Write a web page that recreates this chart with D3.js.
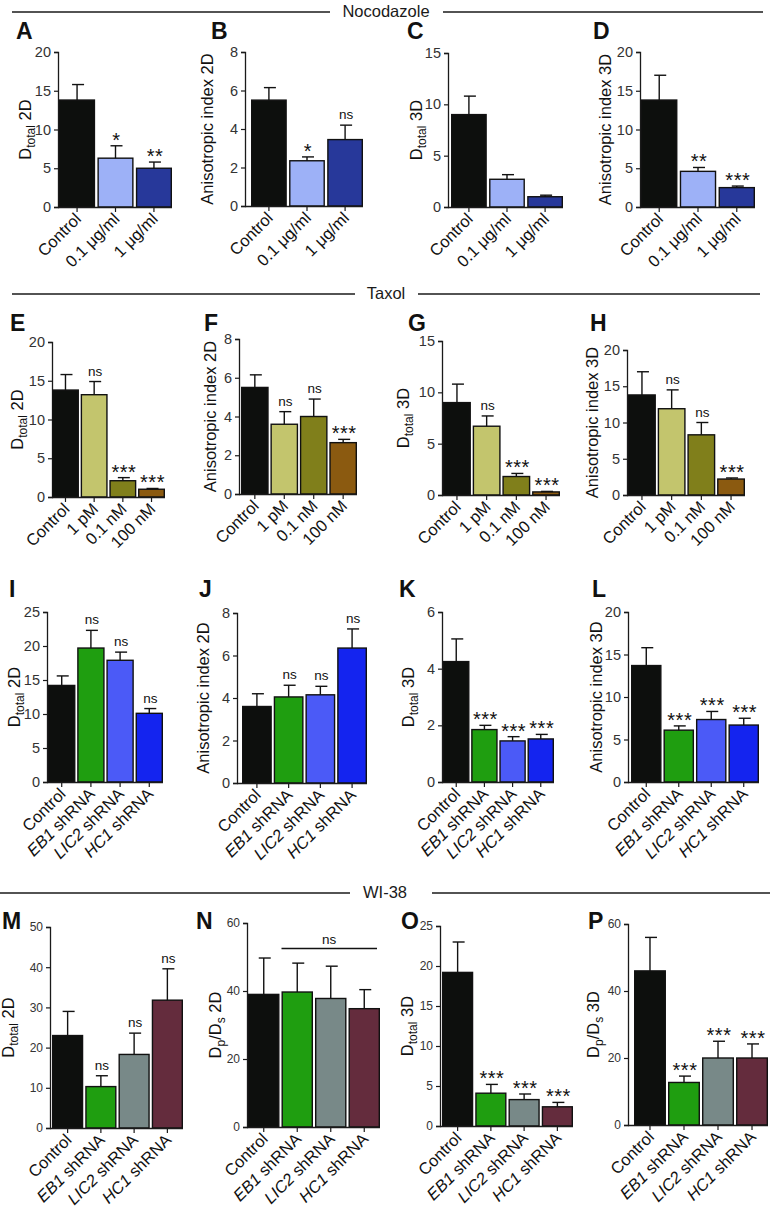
<!DOCTYPE html>
<html><head><meta charset="utf-8">
<script src="https://cdn.jsdelivr.net/npm/d3@7"></script>
<style>
body{margin:0;background:#fff;}
text{font-family:"Liberation Sans",Arial,sans-serif;}
</style></head>
<body><svg id="fig" width="772" height="1212"></svg>
<script>
// ---------- data ----------
const catsNoc = ["Control", "0.1 μg/ml", "1 μg/ml"];
const catsTax = ["Control", "1 pM", "0.1 nM", "100 nM"];
const catsSh  = ["Control", "EB1 shRNA", "LIC2 shRNA", "HC1 shRNA"];

const colorsNoc = ["#0d0f0d", "#9db1f7", "#27389a"];
const colorsTax = ["#0d0f0d", "#c3c56d", "#807f1b", "#8b5a10"];
const colorsSh  = ["#0d0f0d", "#1f9e10", "#4b5af7", "#1424ef"];
const colorsWI  = ["#0d0f0d", "#1f9e10", "#788988", "#642c3d"];

const meanA = [13.8, 6.3, 5.0],  upA = [15.8, 7.9, 5.8],  sigA = ["", "*", "**"];
const meanB = [5.5, 2.35, 3.45], upB = [6.15, 2.55, 4.2], sigB = ["", "*", "ns"];
const meanC = [9.0, 2.7, 1.0],   upC = [10.8, 3.15, 1.15], sigC = ["", "", ""];
const meanD = [13.8, 4.6, 2.5],  upD = [17.0, 5.1, 2.7],  sigD = ["", "**", "***"];

const meanE = [13.8, 13.2, 2.1, 1.0], upE = [15.8, 14.9, 2.5, 1.1],  sigE = ["", "ns", "***", "***"];
const meanF = [5.5, 3.6, 4.0, 2.65],  upF = [6.15, 4.25, 4.9, 2.82], sigF = ["", "ns", "ns", "***"];
const meanG = [9.0, 6.7, 1.8, 0.3],   upG = [10.8, 7.7, 2.1, 0.35],  sigG = ["", "ns", "***", "***"];
const meanH = [13.8, 11.9, 8.3, 2.2], upH = [17.0, 14.5, 10.0, 2.35], sigH = ["", "ns", "ns", "***"];

const meanI = [14.2, 19.7, 17.9, 10.1], upI = [15.6, 22.3, 19.1, 10.8], sigI = ["", "ns", "ns", "ns"];
const meanJ = [3.6, 4.05, 4.15, 6.35],  upJ = [4.2, 4.6, 4.55, 7.25],   sigJ = ["", "ns", "ns", "ns"];
const meanK = [4.25, 1.85, 1.45, 1.52], upK = [5.05, 2.0, 1.6, 1.68],   sigK = ["", "***", "***", "***"];
const meanL = [13.7, 6.1, 7.35, 6.7],   upL = [15.8, 6.6, 8.3, 7.5],    sigL = ["", "***", "***", "***"];

const meanM = [23, 10.3, 18.3, 31.8], upM = [29, 13, 23.6, 39.6],     sigM = ["", "ns", "ns", "ns"];
const meanN = [39, 39.7, 37.8, 34.8], upN = [49.7, 48.2, 47.3, 40.4], sigN = ["", "", "", ""];
const meanO = [19.2, 4.1, 3.3, 2.4],  upO = [23, 5.2, 4.0, 2.95],     sigO = ["", "***", "***", "***"];
const meanP = [46, 12.7, 20, 20],     upP = [56, 14.6, 25, 24.2],     sigP = ["", "***", "***", "***"];

const yMaxes  = {A:20,B:8,C:15,D:20,E:20,F:8,G:15,H:20,I:25,J:8,K:6,L:20,M:50,N:60,O:25,P:60};
const yTicksStep = {A:5,B:2,C:5,D:5,E:5,F:2,G:5,H:5,I:5,J:2,K:2,L:5,M:10,N:20,O:5,P:20};

const sectionTitles = ["Nocodazole", "Taxol", "WI-38"];

// ---------- layout (positions only) ----------
const layout = [
 {id:"A", cats:catsNoc, col:colorsNoc, m:meanA, u:upA, s:sigA, yl:["D","total"," 2D"], ax:58,  b0:59,  b1:172, yt:52,  yb:207, lx:16, ly:39,  ylx:25, tf:14.5},
 {id:"B", cats:catsNoc, col:colorsNoc, m:meanB, u:upB, s:sigB, yl:["Anisotropic index 2D"], ax:245, b0:251, b1:363, yt:52, yb:206, lx:211, ly:39, ylx:207, tf:14.5},
 {id:"C", cats:catsNoc, col:colorsNoc, m:meanC, u:upC, s:sigC, yl:["D","total"," 3D"], ax:448, b0:451, b1:563, yt:53, yb:207, lx:407, ly:39, ylx:416, tf:14.5},
 {id:"D", cats:catsNoc, col:colorsNoc, m:meanD, u:upD, s:sigD, yl:["Anisotropic index 3D"], ax:640, b0:641, b1:755, yt:52, yb:207, lx:593, ly:39, ylx:605, tf:14.5},

 {id:"E", cats:catsTax, col:colorsTax, m:meanE, u:upE, s:sigE, yl:["D","total"," 2D"], ax:52,  b0:52,  b1:165, yt:342, yb:497, lx:10, ly:331, ylx:17, tf:14.5},
 {id:"F", cats:catsTax, col:colorsTax, m:meanF, u:upF, s:sigF, yl:["Anisotropic index 2D"], ax:239, b0:241, b1:357, yt:339, yb:494, lx:204, ly:331, ylx:210, tf:14.5},
 {id:"G", cats:catsTax, col:colorsTax, m:meanG, u:upG, s:sigG, yl:["D","total"," 3D"], ax:442, b0:443, b1:560, yt:341, yb:495, lx:408, ly:331, ylx:403, tf:14.5},
 {id:"H", cats:catsTax, col:colorsTax, m:meanH, u:upH, s:sigH, yl:["Anisotropic index 3D"], ax:627, b0:628, b1:745, yt:350, yb:495, lx:590, ly:331, ylx:592, tf:14.5},

 {id:"I", cats:catsSh, col:colorsSh, m:meanI, u:upI, s:sigI, yl:["D","total"," 2D"], ax:47,  b0:48,  b1:163, yt:612, yb:782, lx:9,   ly:597, ylx:14, tf:14.5},
 {id:"J", cats:catsSh, col:colorsSh, m:meanJ, u:upJ, s:sigJ, yl:["Anisotropic index 2D"], ax:237, b0:242, b1:367, yt:613, yb:783, lx:199, ly:597, ylx:203, tf:14.5},
 {id:"K", cats:catsSh, col:colorsSh, m:meanK, u:upK, s:sigK, yl:["D","total"," 3D"], ax:442, b0:443, b1:554, yt:612, yb:782, lx:399, ly:597, ylx:408, tf:14.5},
 {id:"L", cats:catsSh, col:colorsSh, m:meanL, u:upL, s:sigL, yl:["Anisotropic index 3D"], ax:628, b0:631, b1:759, yt:612, yb:782, lx:592, ly:597, ylx:596, tf:14.5},

 {id:"M", cats:catsSh, col:colorsWI, m:meanM, u:upM, s:sigM, yl:["D","total"," 2D"], ax:50,  b0:52,  b1:183, yt:927, yb:1128, lx:2,   ly:929, ylx:8, tf:12},
 {id:"N", cats:catsSh, col:colorsWI, m:meanN, u:upN, s:sigN, yl:["D","p","/D","s"," 2D"], ax:247, b0:248, b1:380, yt:923, yb:1127, lx:196, ly:929, ylx:215, tf:12},
 {id:"O", cats:catsSh, col:colorsWI, m:meanO, u:upO, s:sigO, yl:["D","total"," 3D"], ax:440, b0:442, b1:573, yt:926, yb:1126, lx:401, ly:929, ylx:407, tf:12},
 {id:"P", cats:catsSh, col:colorsWI, m:meanP, u:upP, s:sigP, yl:["D","p","/D","s"," 3D"], ax:628, b0:634, b1:768, yt:924, yb:1125, lx:588, ly:929, ylx:593, tf:12}
];

const headers = [
 {t:sectionTitles[0], y:12, x:386, l:[12,330], r:[443,763]},
 {t:sectionTitles[1], y:294, x:386, l:[12,355], r:[418,760]},
 {t:sectionTitles[2], y:893, x:385, l:[0,350], r:[432,770]}
];

const svg = d3.select("#fig");
const ink = "#1a1a1a";

headers.forEach(h => {
  svg.append("line").attr("x1",h.l[0]).attr("x2",h.l[1]).attr("y1",h.y).attr("y2",h.y).attr("stroke",ink).attr("stroke-width",1.3);
  svg.append("line").attr("x1",h.r[0]).attr("x2",h.r[1]).attr("y1",h.y).attr("y2",h.y).attr("stroke",ink).attr("stroke-width",1.3);
  svg.append("text").attr("x",h.x).attr("y",h.y+4.5).attr("text-anchor","middle").attr("font-size",16.5).attr("fill",ink).text(h.t);
});

const italicGenes = ["EB1","LIC2","HC1"];

layout.forEach(p => {
  const g = svg.append("g");
  const y = d3.scaleLinear().domain([0, yMaxes[p.id]]).range([p.yb, p.yt]);
  const x = d3.scaleBand().domain(p.cats).range([p.b0, p.b1]).paddingInner(0.06).paddingOuter(0);
  const data = p.cats.map((c,i)=>({c, m:p.m[i], u:p.u[i], s:p.s[i], col:p.col[i]}));

  // panel letter
  g.append("text").attr("x",p.lx).attr("y",p.ly).attr("font-size",23).attr("font-weight","bold").attr("fill","#111").text(p.id);

  // y axis
  const yAxis = d3.axisLeft(y).tickValues(d3.range(0, yMaxes[p.id]+0.001, yTicksStep[p.id])).tickSize(4).tickPadding(3).tickFormat(d3.format("d"));
  const ya = g.append("g").attr("transform",`translate(${p.ax},0)`).call(yAxis);
  ya.select(".domain").attr("stroke",ink).attr("stroke-width",1.3);
  ya.selectAll(".tick line").attr("stroke",ink).attr("stroke-width",1.2);
  ya.selectAll(".tick text").attr("font-size",p.tf).attr("fill","#333").attr("font-family","Liberation Sans, Arial, sans-serif");

  // bars
  g.selectAll("rect.bar").data(data).join("rect")
    .attr("x", d=>x(d.c)+0.7).attr("width", x.bandwidth()-1.4)
    .attr("y", d=>y(d.m)).attr("height", d=>p.yb - y(d.m))
    .attr("fill", d=>d.col).attr("stroke","#111").attr("stroke-width",1.4);

  // error bars
  data.forEach(d=>{
    const cx = x(d.c)+x.bandwidth()/2;
    g.append("line").attr("x1",cx).attr("x2",cx).attr("y1",y(d.m)).attr("y2",y(d.u)).attr("stroke","#111").attr("stroke-width",1.4);
    g.append("line").attr("x1",cx-5).attr("x2",cx+7).attr("y1",y(d.u)).attr("y2",y(d.u)).attr("stroke","#111").attr("stroke-width",1.4);
    if (d.s) {
      const isNs = d.s === "ns";
      g.append("text").attr("x",cx+1).attr("y", y(d.u) - (isNs ? 6 : -1))
        .attr("text-anchor","middle").attr("font-size", isNs ? 13.5 : 20)
        .attr("letter-spacing", isNs ? 0 : 0.5).attr("fill","#111").text(d.s);
    }
  });

  // x axis
  const xAxis = d3.axisBottom(x).tickSize(5).tickFormat("");
  const xa = g.append("g").attr("transform",`translate(0,${p.yb})`).call(xAxis);
  xa.select(".domain").attr("d", `M${p.ax},0.5H${p.b1}`).attr("stroke",ink).attr("stroke-width",1.4);
  xa.selectAll(".tick line").attr("stroke",ink).attr("stroke-width",1.2);

  // rotated category labels
  data.forEach(d=>{
    const cx = x(d.c)+x.bandwidth()/2;
    const t = g.append("text").attr("transform",`translate(${cx+5},${p.yb+13}) rotate(-45)`)
      .attr("text-anchor","end").attr("font-size",16.5).attr("fill","#111");
    const parts = d.c.split(" ");
    if (italicGenes.includes(parts[0])) {
      t.append("tspan").attr("font-style","italic").text(parts[0]);
      t.append("tspan").text(" " + parts.slice(1).join(" "));
    } else t.text(d.c);
  });

  // y label
  const ym = (p.yt + p.yb)/2;
  const yl = g.append("text").attr("transform",`translate(${p.ylx+6},${ym}) rotate(-90)`)
    .attr("text-anchor","middle").attr("font-size",16.5).attr("fill","#111");
  p.yl.forEach((s,i)=>{
    const sub = p.yl.length>1 && (i%2===1) && i < p.yl.length-1;
    const ts = yl.append("tspan").text(s);
    if (sub) ts.attr("font-size",12).attr("dy",4);
    else if (i>0 && p.yl.length>1) ts.attr("dy",-4);
  });
});

// N: bracket over shRNA groups
(function(){
  const p = layout.find(q=>q.id==="N");
  const x = d3.scaleBand().domain(p.cats).range([p.b0,p.b1]).paddingInner(0.06);
  const y = d3.scaleLinear().domain([0, yMaxes.N]).range([p.yb,p.yt]);
  const xs = x(p.cats[1]), xe = x(p.cats[3]) + x.bandwidth() - 3;
  const by = y(52.5);
  svg.append("line").attr("x1",xs).attr("x2",xe).attr("y1",by).attr("y2",by).attr("stroke","#111").attr("stroke-width",1.4);
  svg.append("text").attr("x",(xs+xe)/2).attr("y",by-5).attr("text-anchor","middle").attr("font-size",13.5).attr("fill","#111").text("ns");
})();
</script></body></html>
